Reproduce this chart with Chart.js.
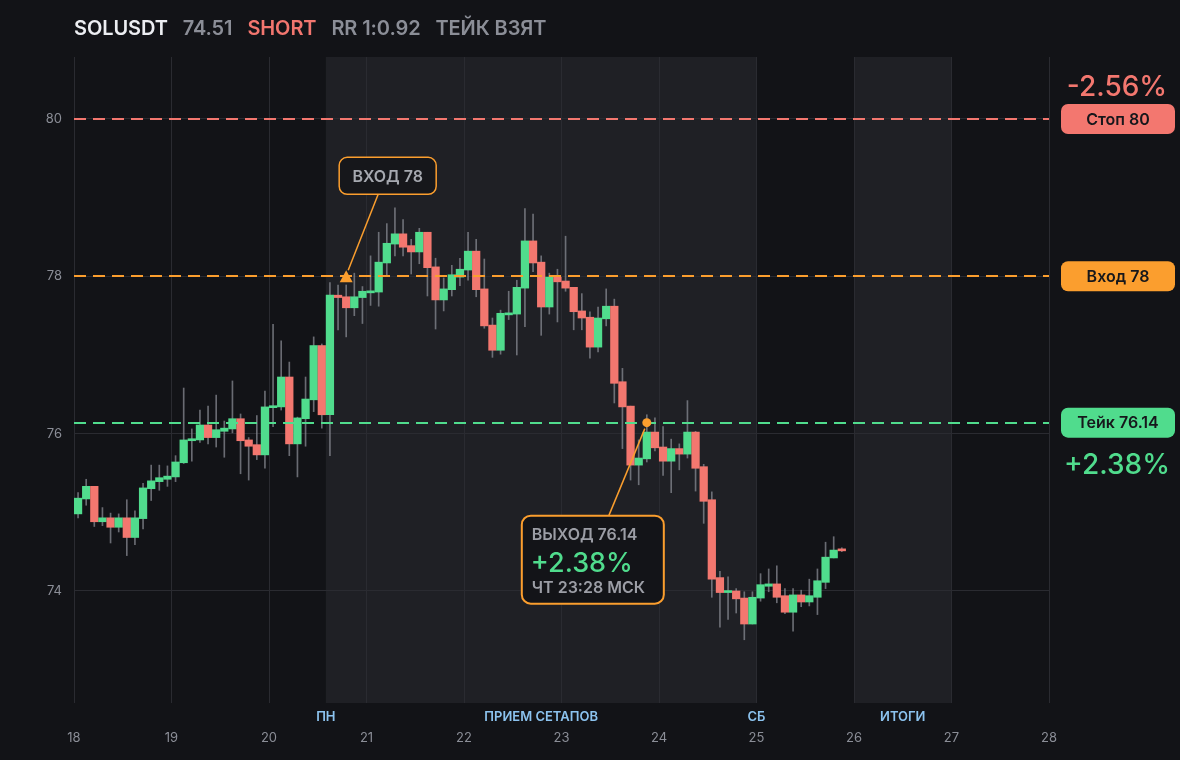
<!DOCTYPE html>
<html>
<head>
<meta charset="utf-8">
<script src="https://cdn.jsdelivr.net/npm/chart.js@4/dist/chart.umd.min.js"></script>
<style>
  html, body { margin: 0; padding: 0; background: #121317; }
  #wrap { position: relative; width: 1180px; height: 760px; background: #121317; overflow: hidden; }
  #hdr { position: absolute; left: 74px; top: 17px; font: 600 20px Inter, sans-serif; line-height: 22px; white-space: nowrap; letter-spacing: -0.1px; }
  #hdr span { margin-right: 10px; }
  .sym { color: #eceef2; }
  .gray { color: #8b8e97; }
  .red { color: #f2766f; }
  canvas { position: absolute; left: 0; top: 0; }
</style>
</head>
<body>
<div id="wrap">
  <canvas id="c" width="1180" height="760"></canvas>
  <div id="hdr"><span class="sym">SOLUSDT</span> <span class="gray">74.51</span> <span class="red">SHORT</span> <span class="gray">RR 1:0.92</span> <span class="gray">ТЕЙК ВЗЯТ</span></div>
</div>
<script>
// ---- data (2h candles starting 18th 00:00) ----
const firstDay = 18;
const candleHours = 2;
const opens  = [74.98,75.17,75.33,74.88,74.93,74.81,74.93,74.68,74.92,75.30,75.39,75.42,75.45,75.63,75.91,75.92,76.11,75.95,76.03,76.06,
                76.19,75.92,75.86,75.73,76.33,76.34,76.72,75.87,76.19,76.43,77.12,76.24,77.76,77.74,77.60,77.73,77.79,77.80,78.17,78.41,
                78.54,78.39,78.31,78.56,78.12,77.70,77.83,77.99,78.08,78.32,77.84,77.38,77.06,77.51,77.52,77.85,78.45,78.18,77.61,77.99,
                77.94,77.86,77.56,77.48,77.10,77.46,77.62,76.66,76.35,75.60,75.68,76.02,75.83,75.65,75.81,75.74,76.02,75.58,75.16,74.17,
                73.98,74.00,73.91,73.58,73.91,74.06,74.09,73.94,73.73,73.95,73.86,73.92,74.11,74.42,74.52];
const highs  = [75.25,75.42,75.33,75.06,74.99,74.98,75.16,75.02,75.37,75.60,75.60,75.59,75.72,76.58,76.06,76.30,76.35,76.49,76.16,76.67,
                76.25,75.95,76.23,76.54,77.39,77.18,76.91,76.21,76.72,77.23,77.14,77.92,77.89,77.89,78.04,77.87,78.26,78.56,78.67,78.87,
                78.72,78.47,78.61,78.56,78.23,77.98,78.14,78.23,78.56,78.47,78.22,77.47,77.57,77.81,77.95,78.86,78.79,78.26,78.04,78.09,
                78.51,77.86,77.78,77.55,77.61,77.84,77.71,76.83,76.35,75.92,76.24,76.20,76.09,75.93,75.87,76.42,76.03,75.61,75.26,74.25,
                74.18,74.03,73.99,73.99,74.22,74.28,74.32,74.03,74.03,74.01,74.15,74.28,74.62,74.69,74.55];
const lows   = [74.93,75.09,74.82,74.83,74.61,74.75,74.45,74.59,74.79,75.15,75.28,75.33,75.39,75.62,75.65,75.89,75.87,75.83,75.70,76.01,
                75.49,75.41,75.67,75.56,76.09,76.30,75.72,75.45,75.84,76.28,76.07,75.72,77.32,77.23,77.50,77.40,77.63,77.62,78.00,78.26,
                78.26,78.03,78.16,77.75,77.33,77.56,77.75,77.88,77.95,77.74,77.34,76.97,77.01,77.45,77.00,77.36,78.06,77.25,77.52,77.42,
                77.81,77.32,77.32,76.96,77.04,77.37,76.39,75.81,75.41,75.35,75.64,75.78,75.47,75.25,75.54,75.69,75.27,74.86,73.92,73.54,
                73.64,73.72,73.38,73.58,73.87,73.99,73.85,73.71,73.49,73.80,73.81,73.70,74.03,74.42,74.50];
const closes = [75.18,75.33,74.88,74.93,74.81,74.93,74.68,74.93,75.31,75.40,75.44,75.46,75.64,75.92,75.93,76.11,75.95,76.05,76.07,76.19,
                75.91,75.84,75.73,76.34,76.35,76.72,75.87,76.20,76.44,77.12,76.24,77.76,77.73,77.60,77.74,77.81,77.81,78.18,78.42,78.54,
                78.37,78.31,78.56,78.11,77.70,77.84,78.02,78.09,78.32,77.83,77.37,77.06,77.53,77.53,77.86,78.45,78.17,77.61,77.99,77.93,
                77.85,77.55,77.47,77.10,77.47,77.62,76.64,76.34,75.60,75.69,76.02,75.82,75.65,75.81,75.74,76.02,75.56,75.14,74.15,73.98,
                74.00,73.90,73.58,73.92,74.08,74.09,73.92,73.73,73.95,73.86,73.94,74.13,74.43,74.52,74.51];

const xTickValues = [18,19,20,21,22,23,24,25,26,27,28];
const yTickValues = [74,76,78,80];

const stopLevel = 80, entryLevel = 78, takeLevel = 76.14;
const stopPct = '-2.56%', takePct = '+2.38%';
const entryIndex = 33, exitIndex = 70;

const bandStarts = [20.583, 26];
const bandEnds   = [25, 27];
const bandLabels = ['ПН', 'ПРИЕМ СЕТАПОВ', 'СБ', 'ИТОГИ'];
const bandLabelPos = [20.583, 22.7915, 25, 26.5];

// ---- styles ----
const GREEN = '#50dc8d', RED = '#f3776f', ORANGE = '#fb9e2e';
const GRID = '#2a2b31', TICK = '#8b8e97';
const FONT = 'Inter, sans-serif';

const times = opens.map((_, i) => firstDay + (i * candleHours + candleHours / 2) / 24);
const bodies = times.map((t, i) => ({ x: t, y: [opens[i], closes[i]] }));
const wicks  = times.map((t, i) => ({ x: t, y: [lows[i], highs[i]] }));
const bodyColors = opens.map((o, i) => closes[i] >= o ? GREEN : RED);

function rr(ctx, x, y, w, h, r) {
  ctx.beginPath();
  ctx.moveTo(x + r, y);
  ctx.arcTo(x + w, y, x + w, y + h, r);
  ctx.arcTo(x + w, y + h, x, y + h, r);
  ctx.arcTo(x, y + h, x, y, r);
  ctx.arcTo(x, y, x + w, y, r);
  ctx.closePath();
}

const bandsPlugin = {
  id: 'bands',
  beforeDraw(chart) {
    const { ctx, chartArea: a, scales: { x } } = chart;
    ctx.save();
    ctx.fillStyle = '#1f2025';
    bandStarts.forEach((s, i) => {
      const x0 = x.getPixelForValue(s), x1 = x.getPixelForValue(bandEnds[i]);
      ctx.fillRect(x0, a.top, x1 - x0, a.bottom - a.top);
    });
    ctx.restore();
  },
  afterDraw(chart) {
    const { ctx, chartArea: a, scales: { x } } = chart;
    ctx.save();
    ctx.font = '600 13px ' + FONT;
    ctx.fillStyle = '#8cc3ef';
    ctx.textAlign = 'center';
    ctx.textBaseline = 'middle';
    bandLabels.forEach((l, i) => ctx.fillText(l, x.getPixelForValue(bandLabelPos[i]), a.bottom + 14));
    ctx.restore();
  }
};

const levelsPlugin = {
  id: 'levels',
  afterDatasetsDraw(chart) {
    const { ctx, chartArea: a, scales: { y } } = chart;
    ctx.save();
    ctx.lineWidth = 2;
    ctx.setLineDash([12, 7]);
    [[stopLevel, RED], [entryLevel, ORANGE], [takeLevel, GREEN]].forEach(([v, c]) => {
      const py = Math.round(y.getPixelForValue(v));
      ctx.strokeStyle = c;
      ctx.beginPath();
      ctx.moveTo(a.left, py);
      ctx.lineTo(a.right, py);
      ctx.stroke();
    });
    ctx.restore();
  },
  afterDraw(chart) {
    const { ctx, chartArea: a, scales: { x, y } } = chart;
    ctx.save();
    // right pills
    const px = a.right + 12, pw = 114, ph = 30;
    const cx = px + pw / 2;
    [[stopLevel, RED, 'Стоп ' + stopLevel], [entryLevel, ORANGE, 'Вход ' + entryLevel], [takeLevel, GREEN, 'Тейк ' + takeLevel]].forEach(([v, c, t]) => {
      const py = y.getPixelForValue(v);
      ctx.fillStyle = c;
      rr(ctx, px, py - ph / 2, pw, ph, 7);
      ctx.fill();
      ctx.fillStyle = '#16171b';
      ctx.font = '600 16px ' + FONT;
      ctx.textAlign = 'center';
      ctx.textBaseline = 'middle';
      ctx.fillText(t, cx, py + 1);
    });
    ctx.font = '500 28px ' + FONT;
    ctx.textAlign = 'center';
    ctx.textBaseline = 'middle';
    ctx.fillStyle = RED;
    ctx.fillText(stopPct, cx - 1, y.getPixelForValue(stopLevel) - 31);
    ctx.fillStyle = GREEN;
    ctx.fillText(takePct, cx - 1, y.getPixelForValue(takeLevel) + 43);

    // entry marker
    const ex = x.getPixelForValue(times[entryIndex]), ey = y.getPixelForValue(entryLevel);
    ctx.strokeStyle = ORANGE;
    ctx.lineWidth = 1.5;
    ctx.beginPath();
    ctx.moveTo(ex + 32, ey - 82);
    ctx.lineTo(ex + 2, ey - 6);
    ctx.stroke();
    ctx.fillStyle = ORANGE;
    ctx.beginPath();
    ctx.moveTo(ex, ey - 6);
    ctx.lineTo(ex + 6.5, ey + 6);
    ctx.lineTo(ex - 6.5, ey + 6);
    ctx.closePath();
    ctx.fill();
    // entry box
    const bx = ex - 7, by = ey - 119, bw = 97, bh = 37;
    ctx.fillStyle = '#16171b';
    rr(ctx, bx, by, bw, bh, 8);
    ctx.fill();
    ctx.lineWidth = 1.5;
    ctx.strokeStyle = ORANGE;
    ctx.stroke();
    ctx.fillStyle = '#a6a9b0';
    ctx.font = '600 16px ' + FONT;
    ctx.textAlign = 'center';
    ctx.textBaseline = 'middle';
    ctx.fillText('ВХОД ' + entryLevel, bx + bw / 2, by + bh / 2 + 1);

    // exit marker
    const xx = x.getPixelForValue(times[exitIndex]), xy = y.getPixelForValue(takeLevel);
    ctx.strokeStyle = ORANGE;
    ctx.lineWidth = 1.5;
    ctx.beginPath();
    ctx.moveTo(xx - 2, xy + 6);
    ctx.lineTo(xx - 38, xy + 93);
    ctx.stroke();
    ctx.fillStyle = ORANGE;
    ctx.beginPath();
    ctx.arc(xx, xy, 4.5, 0, Math.PI * 2);
    ctx.fill();
    const qx = xx - 125, qy = xy + 93, qw = 142, qh = 88;
    ctx.fillStyle = '#131418';
    rr(ctx, qx, qy, qw, qh, 9);
    ctx.fill();
    ctx.lineWidth = 2;
    ctx.strokeStyle = ORANGE;
    ctx.stroke();
    ctx.textAlign = 'left';
    ctx.textBaseline = 'alphabetic';
    ctx.fillStyle = '#9c9ea6';
    ctx.font = '600 16px ' + FONT;
    ctx.fillText('ВЫХОД ' + takeLevel, qx + 10, qy + 24);
    ctx.fillStyle = GREEN;
    ctx.font = '500 27px ' + FONT;
    ctx.fillText(takePct, qx + 9, qy + 56);
    ctx.fillStyle = '#9c9ea6';
    ctx.font = '600 16px ' + FONT;
    ctx.fillText('ЧТ 23:28 МСК', qx + 10, qy + 77);
    ctx.restore();
  }
};

new Chart(document.getElementById('c'), {
  type: 'bar',
  data: {
    datasets: [
      { data: bodies, backgroundColor: bodyColors, barThickness: 7.6, minBarLength: 2, grouped: false, order: 0 },
      { data: wicks, backgroundColor: 'rgba(135,138,146,0.75)', barThickness: 1, grouped: false, order: 1 }
    ]
  },
  options: {
    responsive: false,
    animation: false,
    devicePixelRatio: 1,
    layout: { padding: { left: 0, right: 131, top: 57, bottom: 0 } },
    plugins: { legend: { display: false }, tooltip: { enabled: false } },
    scales: {
      x: {
        type: 'linear', min: 18, max: 28, offset: false,
        afterFit(s) { s.height = 57; },
        afterBuildTicks(s) { s.ticks = xTickValues.map(v => ({ value: v })); },
        grid: { color: GRID, drawTicks: false, offset: false },
        border: { display: false },
        ticks: { color: TICK, font: { family: FONT, size: 13 }, padding: 27, maxRotation: 0 }
      },
      y: {
        min: 72.576, max: 80.788,
        afterFit(s) { s.width = 74; },
        afterBuildTicks(s) { s.ticks = yTickValues.map(v => ({ value: v })); },
        grid: { color: GRID, drawTicks: false },
        border: { display: false },
        ticks: { color: TICK, font: { family: FONT, size: 13 }, padding: 12 }
      }
    }
  },
  plugins: [bandsPlugin, levelsPlugin]
});
</script>
</body>
</html>
